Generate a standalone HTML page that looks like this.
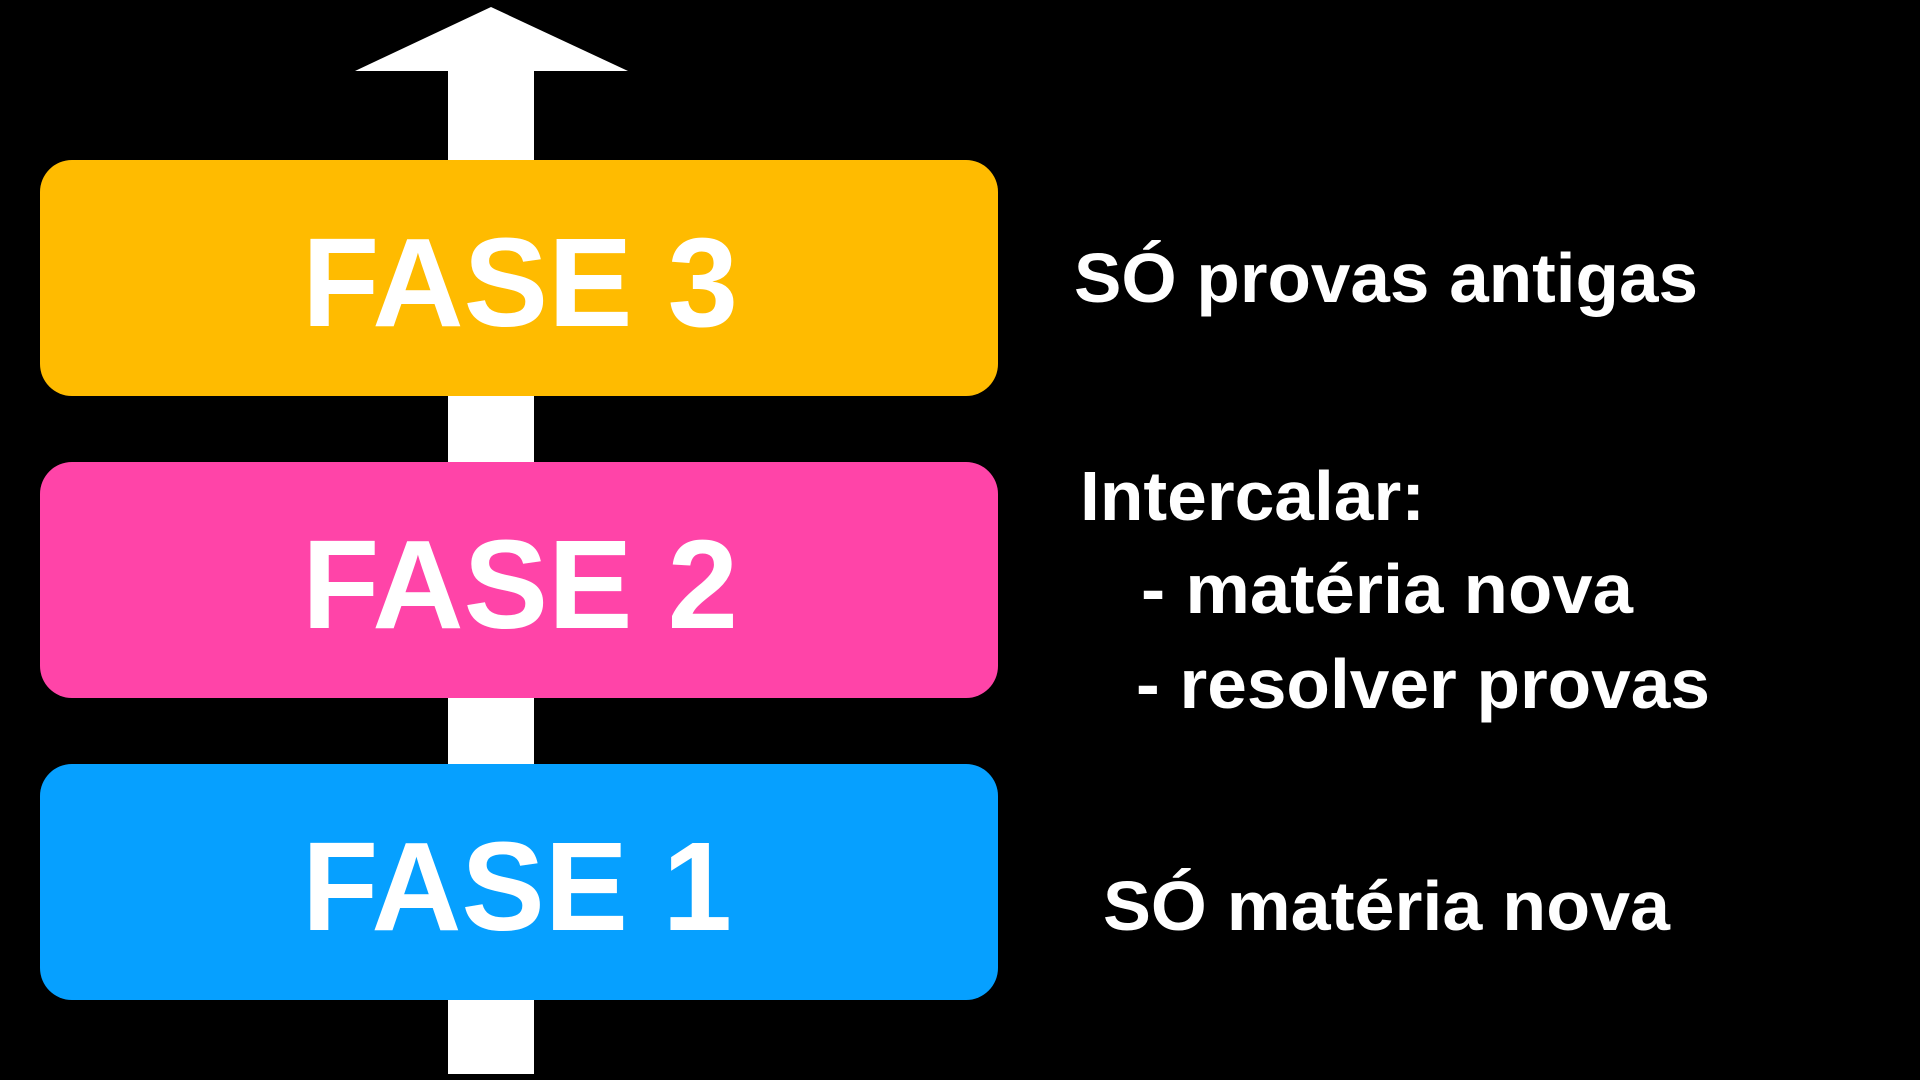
<!DOCTYPE html>
<html><head><meta charset="utf-8"><style>
html,body{margin:0;padding:0;background:#000;width:1920px;height:1080px;overflow:hidden}
svg{display:block}
text{font-family:"Liberation Sans",Arial,sans-serif;font-weight:bold;fill:#fff}
</style></head><body>
<svg width="1920" height="1080" viewBox="0 0 1920 1080">
<rect width="1920" height="1080" fill="#000"/>
<rect x="448" y="70" width="86" height="1004" fill="#fff"/>
<polygon points="491,7 628,71 355,71" fill="#fff"/>
<rect x="40" y="160" width="958" height="236" rx="32" fill="#FFBB00"/>
<rect x="40" y="462" width="958" height="236" rx="32" fill="#FF44A8"/>
<rect x="40" y="764" width="958" height="236" rx="32" fill="#06A0FF"/>
<text x="302" y="326" font-size="126" textLength="436" lengthAdjust="spacingAndGlyphs">FASE 3</text>
<text x="302" y="628" font-size="126" textLength="436" lengthAdjust="spacingAndGlyphs">FASE 2</text>
<text x="302" y="930" font-size="126" textLength="430" lengthAdjust="spacingAndGlyphs">FASE 1</text>
<text x="1074" y="302" font-size="70" textLength="624" lengthAdjust="spacingAndGlyphs">SÓ provas antigas</text>
<text x="1080" y="520" font-size="70" textLength="345" lengthAdjust="spacingAndGlyphs">Intercalar:</text>
<text x="1141" y="613" font-size="70" textLength="492" lengthAdjust="spacingAndGlyphs">- matéria nova</text>
<text x="1136" y="708" font-size="70" textLength="574" lengthAdjust="spacingAndGlyphs">- resolver provas</text>
<text x="1103" y="930" font-size="70" textLength="567" lengthAdjust="spacingAndGlyphs">SÓ matéria nova</text>
</svg>
</body></html>
